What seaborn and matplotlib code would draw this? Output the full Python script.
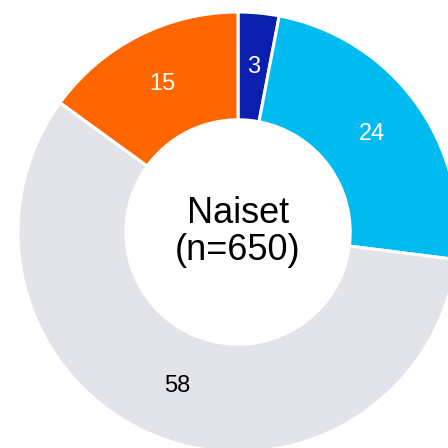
import matplotlib
matplotlib.use("Agg")
import matplotlib.pyplot as plt
import seaborn as sns

# data
categories = ["A", "B", "C", "D"]
values = [3, 24, 58, 15]
colors = ["#0a1fae", "#00bbf0", "#e3e4e9", "#ff6600"]
label_colors = ["white", "white", "black", "white"]
center_title = "Naiset"
center_n = 650

sns.set_theme(style="white")
plt.rcParams["font.family"] = ["Liberation Sans", "DejaVu Sans"]

fig = plt.figure(figsize=(4.48, 4.48), dpi=100)
ax = fig.add_axes([0, 0, 1, 1])

# donut centre at pixel (238, 232), outer radius 220 px
r_px = 220.0
ax.set_xlim(-238 / r_px, (448 - 238) / r_px)
ax.set_ylim(-(448 - 232) / r_px, 232 / r_px)

wedges, texts = ax.pie(
    values,
    colors=colors,
    startangle=90,
    counterclock=False,
    radius=1.0,
    wedgeprops=dict(width=0.49, edgecolor="white", linewidth=2.2),
    labels=[str(v) for v in values],
    labeldistance=0.755,
)
for t, c in zip(texts, label_colors):
    t.set_color(c)
    t.set_fontsize(17)
    t.set_ha("center")
    t.set_va("center")

ax.text(0, 0, f"{center_title}\n(n={center_n})", ha="center", va="center",
        fontsize=26, color="black", linespacing=1.1)

ax.set_xlim(-238 / r_px, (448 - 238) / r_px)
ax.set_ylim(-(448 - 232) / r_px, 232 / r_px)
ax.set_aspect("auto")
ax.axis("off")

fig.savefig("out.png", dpi=100)
